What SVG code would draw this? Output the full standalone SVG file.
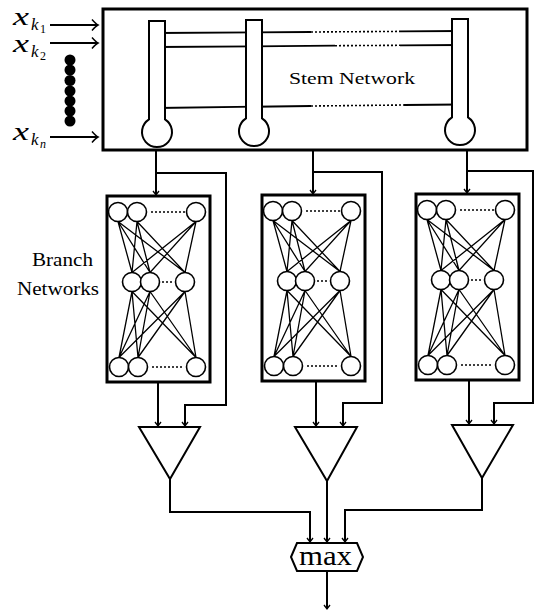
<svg xmlns="http://www.w3.org/2000/svg" xmlns:xlink="http://www.w3.org/1999/xlink" width="536" height="611" viewBox="0 0 536 611">
<style>
.bg{fill:#fff}
.box{fill:#fff;stroke:#000;stroke-width:3}
.th{fill:#fff;stroke:#000;stroke-width:2}
.ln{fill:none;stroke:#000;stroke-width:1.8}
.dot{fill:none;stroke:#000;stroke-width:1.6;stroke-dasharray:2 2}
.wire{fill:none;stroke:#000;stroke-width:2}
.thin{fill:none;stroke:#000;stroke-width:1.3}
.node{fill:#fff;stroke:#000;stroke-width:1.6}
.tri{fill:#fff;stroke:#000;stroke-width:2}
</style>
<defs>
<marker id="ah" markerUnits="userSpaceOnUse" markerWidth="10" markerHeight="10" viewBox="-6 -5 8 10" refX="0" refY="0" orient="auto">
<path d="M-4,-3 L0,0 L-4,3" fill="none" stroke="#000" stroke-width="1.3"/>
</marker>
<marker id="ahb" markerUnits="userSpaceOnUse" markerWidth="12" markerHeight="14" viewBox="-8 -7 10 14" refX="0" refY="0" orient="auto">
<path d="M-6,-5.5 Q-2,-1 0,0 Q-2,1 -6,5.5" fill="none" stroke="#000" stroke-width="1.5"/>
</marker>
<g id="bn">
<rect class="box" x="0" y="0" width="103" height="186"/>
<g class="thin">
<path d="M11,25.5 L25,76.5 M11,25.5 L43,76.5 M11,25.5 L78,76.5 M30,25.5 L25,76.5 M30,25.5 L43,76.5 M30,25.5 L78,76.5 M89,25.5 L25,76.5 M89,25.5 L43,76.5 M89,25.5 L78,76.5"/>
<path d="M25,95.5 L12,161.5 M25,95.5 L31,161.5 M25,95.5 L89,161.5 M43,95.5 L12,161.5 M43,95.5 L31,161.5 M43,95.5 L89,161.5 M78,95.5 L12,161.5 M78,95.5 L31,161.5 M78,95.5 L89,161.5"/>
</g>
<path class="dot" d="M44,16 H80 M55,86 H67 M45,171 H77"/>
<circle class="node" cx="11" cy="16" r="9.5"/>
<circle class="node" cx="30" cy="16" r="9.5"/>
<circle class="node" cx="89" cy="16" r="9.5"/>
<circle class="node" cx="25" cy="86" r="9.5"/>
<circle class="node" cx="43" cy="86" r="9.5"/>
<circle class="node" cx="78" cy="86" r="9.5"/>
<circle class="node" cx="12" cy="171" r="9.5"/>
<circle class="node" cx="31" cy="171" r="9.5"/>
<circle class="node" cx="89" cy="171" r="9.5"/>
</g>
</defs>
<rect class="bg" x="0" y="0" width="536" height="611"/>

<g id="inputs" font-family="'Liberation Serif', 'DejaVu Serif', serif" fill="#000">
<text x="13" y="25" font-size="26" font-style="italic" textLength="16" lengthAdjust="spacingAndGlyphs">x</text>
<text x="31" y="30" font-size="17" font-style="italic">k</text>
<text x="40" y="33" font-size="12">1</text>
<text x="13" y="52" font-size="26" font-style="italic" textLength="16" lengthAdjust="spacingAndGlyphs">x</text>
<text x="31" y="57" font-size="17" font-style="italic">k</text>
<text x="40" y="60" font-size="12">2</text>
<text x="13" y="140" font-size="26" font-style="italic" textLength="16" lengthAdjust="spacingAndGlyphs">x</text>
<text x="31" y="145" font-size="17" font-style="italic">k</text>
<text x="40" y="148" font-size="12" font-style="italic">n</text>
<g>
<circle cx="70" cy="60" r="5.5"/>
<circle cx="70" cy="70" r="5.5"/>
<circle cx="70" cy="80.5" r="5.5"/>
<circle cx="70" cy="91" r="5.5"/>
<circle cx="70" cy="101" r="5.5"/>
<circle cx="70" cy="111" r="5.5"/>
<circle cx="70" cy="121" r="5.5"/>
</g>
</g>

<g id="stem">
<rect class="box" x="103" y="9" width="424" height="141"/>
<path class="ln" d="M157,33 L311,32 M400,31.4 L460,31"/>
<path class="dot" d="M311,32 L400,31.4"/>
<path class="ln" d="M157,47 L335,45.7 M400,45.3 L460,45"/>
<path class="dot" d="M335,45.7 L400,45.3"/>
<path class="ln" d="M157,108 L311,106 M404,105 L460,104.5"/>
<path class="dot" d="M311,106 L404,105"/>
<path class="th" d="M149,21 H165 V119.3 A15,15 0 1 1 149,119.3 Z"/>
<path class="th" d="M246,20 H262 V118.3 A15,15 0 1 1 246,118.3 Z"/>
<path class="th" d="M452,19 H468 V117.3 A15,15 0 1 1 452,117.3 Z"/>
<text x="289" y="84" font-family="'Liberation Serif', 'DejaVu Serif', serif" font-size="17" textLength="126" lengthAdjust="spacingAndGlyphs">Stem Network</text>
</g>

<g id="branch-label" font-family="'Liberation Serif', 'DejaVu Serif', serif" font-size="18">
<text x="32" y="266" textLength="61" lengthAdjust="spacingAndGlyphs">Branch</text>
<text x="17" y="295" textLength="82" lengthAdjust="spacingAndGlyphs">Networks</text>
</g>

<g id="branch1"><use xlink:href="#bn" href="#bn" transform="translate(107,196)"/></g>
<g id="branch2"><use xlink:href="#bn" href="#bn" transform="translate(262,195)"/></g>
<g id="branch3"><use xlink:href="#bn" href="#bn" transform="translate(416,194)"/></g>

<g id="out1"><polygon class="tri" points="139,427 200,427 170,479"/></g>
<g id="out2"><polygon class="tri" points="295,427 357,427 327,481"/></g>
<g id="out3"><polygon class="tri" points="452,425 513,425 482,478"/></g>

<g id="max">
<polygon class="tri" points="291,557 297,543 357,543 363,557 357,571 297,571"/>
<text x="299" y="565" font-family="'Liberation Serif', 'DejaVu Serif', serif" font-size="27" textLength="53" lengthAdjust="spacingAndGlyphs">max</text>
</g>

<g id="connectors">
<path class="wire" d="M50,25 H98" marker-end="url(#ahb)"/>
<path class="wire" d="M50,43 H98" marker-end="url(#ahb)"/>
<path class="wire" d="M50,137 H98" marker-end="url(#ahb)"/>
<path class="wire" d="M156,150 V195" marker-end="url(#ah)"/>
<path class="wire" d="M156,173 H226 V405 H185 V426" marker-end="url(#ah)"/>
<path class="wire" d="M158,382 V426" marker-end="url(#ah)"/>
<path class="wire" d="M313,150 V194" marker-end="url(#ah)"/>
<path class="wire" d="M313,172 H382 V403 H343 V426" marker-end="url(#ah)"/>
<path class="wire" d="M316,381 V426" marker-end="url(#ah)"/>
<path class="wire" d="M467,150 V193" marker-end="url(#ah)"/>
<path class="wire" d="M467,171 H533 V403 H494 V424" marker-end="url(#ah)"/>
<path class="wire" d="M469,380 V424" marker-end="url(#ah)"/>
<path class="wire" d="M170,479 V512 H310 V542" marker-end="url(#ah)"/>
<path class="wire" d="M327,481 V542" marker-end="url(#ah)"/>
<path class="wire" d="M482,478 V510 H345 V542" marker-end="url(#ah)"/>
<path class="wire" d="M327,571 V609" marker-end="url(#ah)"/>
</g>
</svg>
